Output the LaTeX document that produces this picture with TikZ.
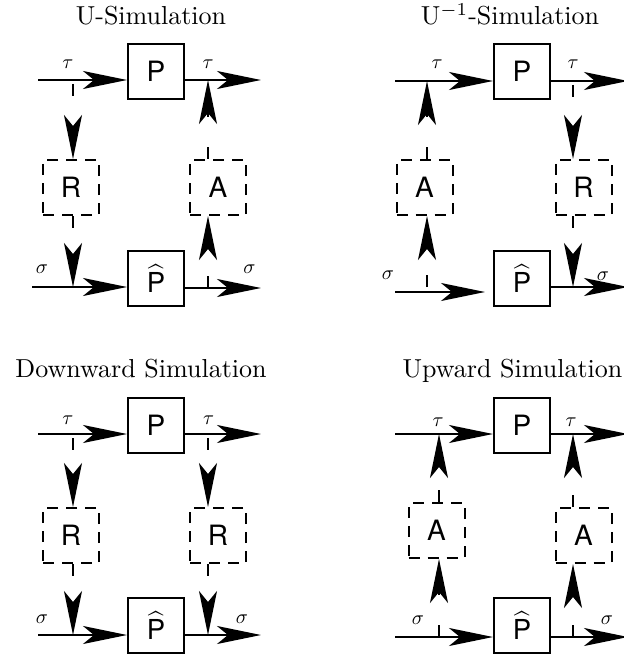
\documentclass[tikz,border=0pt]{standalone}
\usepackage{graphicx}
\usepackage{fontspec}
\newfontfamily\boxfont{TeX Gyre Heros}
\usetikzlibrary{arrows.meta}
\newcommand\hatP{\scalebox{2.75}{$\widehat{\mbox{\fontsize{10}{12}\boxfont P}}$}}
\newcommand\ttltext[1]{\scalebox{2.6}{#1}}
\newcommand\sym[1]{\scalebox{2.0}{$#1$}}
\begin{document}
\begin{tikzpicture}[x=1pt,y=-1pt,
  flow/.style={line width=2pt, -{Stealth[length=44pt,width=18pt,inset=11pt]}},
  link/.style={flow, dash pattern=on 12pt off 30pt},
  blk/.style={draw, line width=2pt, minimum width=56pt, minimum height=55pt,
              inner sep=0pt, font=\fontsize{28}{32}\boxfont},
  dblk/.style={blk, dash pattern=on 11pt off 8pt},
  ttl/.style={anchor=base, inner sep=0pt},
  lbl/.style={anchor=base, inner sep=0pt},
]
\useasboundingbox (0,0) rectangle (623,655);

% ---------------- U-Simulation ----------------
\node[ttl] (t1) at (151,25) {\ttltext{U-Simulation}};
\node[blk]  (P1) at (156,71.5)  {P};
\node[blk]  (H1) at (156,278.5) {\hatP};
\node[dblk] (R1) at (71,187.5)  {R};
\node[dblk] (A1) at (218,187.5) {A};
\coordinate (i1) at (38,80);
\coordinate (o1) at (261,80);
\coordinate (j1) at (32,287);
\coordinate (k1) at (261,288);
\draw[flow] (i1) -- (i1 -| P1.west);
\draw[flow] (P1.east |- o1) -- (o1);
\draw[flow] (j1) -- (j1 -| H1.west);
\draw[flow] (H1.east |- k1) -- (k1);
\coordinate (u1) at (73,84);
\draw[link] (u1) -- (u1 |- R1.north);
\draw[link] (u1 |- R1.south) -- (u1 |- j1);
\coordinate (v1) at (208,288);
\draw[link] (v1) -- (v1 |- A1.south);
\draw[link] (v1 |- A1.north) -- (v1 |- o1);
\node[lbl] (a1) at (68,69)    {\sym{\tau}};
\node[lbl] (b1) at (208,69)   {\sym{\tau}};
\node[lbl] (c1) at (42,273)   {\sym{\sigma}};
\node[lbl] (d1) at (249.5,273){\sym{\sigma}};

% ---------------- U^{-1}-Simulation ----------------
\node[ttl] (t2) at (510,25) {\ttltext{U$^{-1}$-Simulation}};
\node[blk]  (P2) at (522,71.5)    {P};
\node[blk]  (H2) at (522,278.5)   {\hatP};
\node[dblk] (A2) at (424.5,187.5) {A};
\node[dblk] (R2) at (583.5,187.5) {R};
\coordinate (i2) at (395,81);
\coordinate (o2) at (628,81);
\coordinate (j2) at (395,292);
\coordinate (j2e) at (485,292);
\coordinate (k2) at (628,287);
\draw[flow] (i2) -- (i2 -| P2.west);
\draw[flow] (P2.east |- o2) -- (o2);
\draw[flow] (j2) -- (j2e);
\draw[flow] (H2.east |- k2) -- (k2);
\coordinate (v2) at (427,287);
\draw[link] (v2) -- (v2 |- A2.south);
\draw[link] (v2 |- A2.north) -- (v2 |- i2);
\coordinate (u2) at (573,85);
\draw[link] (u2) -- (u2 |- R2.north);
\draw[link] (u2 |- R2.south) -- (u2 |- k2);
\node[lbl] (a2) at (437,69)  {\sym{\tau}};
\node[lbl] (b2) at (573,69)  {\sym{\tau}};
\node[lbl] (c2) at (388,279) {\sym{\sigma}};
\node[lbl] (d2) at (603,280) {\sym{\sigma}};

% ---------------- Downward Simulation ----------------
\node[ttl] (t3) at (141,377) {\ttltext{Downward Simulation}};
\node[blk]  (P3) at (156,425.5) {P};
\node[blk]  (H3) at (156,625.5) {\hatP};
\node[dblk] (R3) at (71,535.5)  {R};
\node[dblk] (S3) at (218,535.5) {R};
\coordinate (i3) at (38,434);
\coordinate (o3) at (261,434);
\coordinate (j3) at (38,635);
\coordinate (k3) at (261,635);
\draw[flow] (i3) -- (i3 -| P3.west);
\draw[flow] (P3.east |- o3) -- (o3);
\draw[flow] (j3) -- (j3 -| H3.west);
\draw[flow] (H3.east |- k3) -- (k3);
\coordinate (u3) at (73,438);
\draw[link] (u3) -- (u3 |- R3.north);
\draw[link] (u3 |- R3.south) -- (u3 |- j3);
\coordinate (w3) at (208,438);
\draw[link] (w3) -- (w3 |- S3.north);
\draw[link] (w3 |- S3.south) -- (w3 |- k3);
\node[lbl] (a3) at (68,424)    {\sym{\tau}};
\node[lbl] (b3) at (208.5,424) {\sym{\tau}};
\node[lbl] (c3) at (42,623)    {\sym{\sigma}};
\node[lbl] (d3) at (242,623)   {\sym{\sigma}};

% ---------------- Upward Simulation ----------------
\node[ttl] (t4) at (512.5,377) {\ttltext{Upward Simulation}};
\node[blk]  (P4) at (522,425.5)   {P};
\node[blk]  (H4) at (522,625.5)   {\hatP};
\node[dblk] (A4) at (436.5,530.5) {A};
\node[dblk] (B4) at (583.5,535.5) {A};
\coordinate (i4) at (395,434);
\coordinate (o4) at (628,434);
\coordinate (j4) at (395,637);
\coordinate (k4) at (628,637);
\draw[flow] (i4) -- (i4 -| P4.west);
\draw[flow] (P4.east |- o4) -- (o4);
\draw[flow] (j4) -- (j4 -| H4.west);
\draw[flow] (H4.east |- k4) -- (k4);
\coordinate (v4) at (439,637);
\draw[link] (v4) -- (v4 |- A4.south);
\draw[link] (v4 |- A4.north) -- (v4 |- i4);
\coordinate (w4) at (573,637);
\draw[link] (w4) -- (w4 |- B4.south);
\draw[link] (w4 |- B4.north) -- (w4 |- o4);
\node[lbl] (a4) at (438,426) {\sym{\tau}};
\node[lbl] (b4) at (571,426) {\sym{\tau}};
\node[lbl] (c4) at (418,624) {\sym{\sigma}};
\node[lbl] (d4) at (607,624) {\sym{\sigma}};
\end{tikzpicture}
\end{document}
